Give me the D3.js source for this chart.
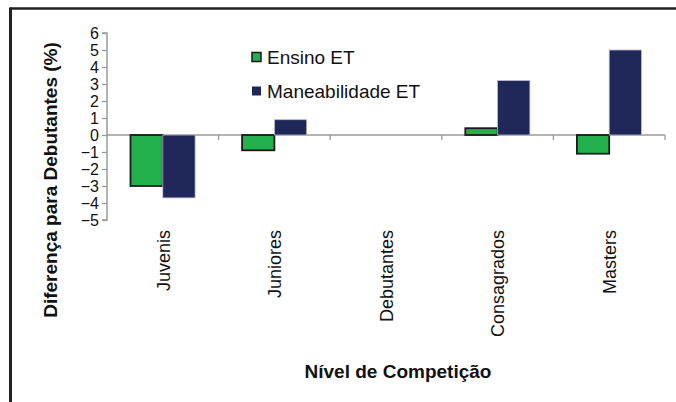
<!DOCTYPE html>
<html>
<head>
<meta charset="utf-8">
<script src="https://cdn.jsdelivr.net/npm/d3@7"></script>
<style>
  html, body { margin: 0; padding: 0; background: #fff; }
  svg { display: block; font-family: "Liberation Sans", Arial, sans-serif; }
</style>
</head>
<body>
<svg id="chart" width="676" height="402"></svg>
<script>
const categories = ["Juvenis", "Juniores", "Debutantes", "Consagrados", "Masters"];
const seriesNames = ["Ensino ET", "Maneabilidade ET"];
const ensino = [-3.0, -0.9, 0, 0.4, -1.1];
const maneabilidade = [-3.7, 0.9, 0, 3.2, 5.0];
const yTicks = [6, 5, 4, 3, 2, 1, 0, -1, -2, -3, -4, -5];
const colors = ["#23b14d", "#1f2859"];
const strokes = ["#1a1a1a", "#b8bccc"];

const svg = d3.select("#chart");
const W = 676, H = 402;

// frame
svg.append("line").attr("x1", 10).attr("x2", W).attr("y1", 8.5).attr("y2", 8.5)
  .attr("stroke", "#222").attr("stroke-width", 2.5);
svg.append("line").attr("x1", 10.5).attr("x2", 10.5).attr("y1", 7.5).attr("y2", H)
  .attr("stroke", "#222").attr("stroke-width", 3);

const x0 = d3.scaleBand().domain(categories).range([107, 665]).padding(0);
const bw = x0.bandwidth();
const x1 = d3.scaleBand().domain(seriesNames).range([bw / 2 - 32.3, bw / 2 + 32.3]).padding(0);
const y = d3.scaleLinear().domain([-5, 6]).range([220, 33]);

const axisColor = "#9a9a9a";

// y axis
const yAxis = svg.append("g").attr("transform", "translate(107,0)")
  .call(d3.axisLeft(y).tickValues(yTicks).tickSize(5).tickPadding(3).tickFormat(d3.format("d")));
yAxis.select(".domain").attr("stroke", axisColor).attr("stroke-width", 1.5).attr("d", `M-5,${y(6)}H0V${y(-5)}H-5`);
yAxis.selectAll(".tick line").attr("stroke", axisColor).attr("stroke-width", 1.3);
yAxis.selectAll(".tick text").attr("font-size", 16).attr("fill", "#111")
  .attr("font-family", "Liberation Sans, Arial, sans-serif");

// x axis at zero
const xg = svg.append("g").attr("transform", `translate(0,${y(0)})`);
xg.append("line").attr("x1", 107).attr("x2", 665).attr("y1", 0).attr("y2", 0)
  .attr("stroke", axisColor).attr("stroke-width", 1.5);
const boundaries = categories.map(c => x0(c) + bw);
xg.selectAll("line.tk").data(boundaries).enter().append("line").attr("class", "tk")
  .attr("x1", d => d).attr("x2", d => d).attr("y1", 0).attr("y2", 5)
  .attr("stroke", axisColor).attr("stroke-width", 1.3);

// bars
const data = categories.map((c, i) => ({ cat: c, vals: [ensino[i], maneabilidade[i]] }));
const groups = svg.append("g").selectAll("g").data(data).enter().append("g")
  .attr("transform", d => `translate(${x0(d.cat)},0)`);
groups.selectAll("rect").data(d => d.vals.map((v, j) => ({ v, j, s: seriesNames[j] })))
  .enter().append("rect")
  .attr("x", d => x1(d.s))
  .attr("width", x1.bandwidth())
  .attr("y", d => Math.min(y(0), y(d.v)))
  .attr("height", d => Math.abs(y(d.v) - y(0)))
  .attr("fill", d => colors[d.j])
  .attr("stroke", d => d.v === 0 ? "none" : strokes[d.j])
  .attr("stroke-width", d => d.j === 0 ? 1.8 : 0.8);

// x tick labels
svg.append("g").selectAll("text").data(categories).enter().append("text")
  .attr("transform", d => `translate(${x0(d) + bw / 2 + 0.5},230) rotate(-90)`)
  .attr("text-anchor", "end").attr("dy", "0.35em")
  .attr("font-size", 18).attr("fill", "#111").text(d => d);

// axis titles
svg.append("text").attr("x", 398).attr("y", 378).attr("text-anchor", "middle")
  .attr("font-size", 19).attr("font-weight", "bold").attr("fill", "#111")
  .text("Nível de Competição");
svg.append("text").attr("transform", "translate(57,180) rotate(-90)").attr("text-anchor", "middle")
  .attr("font-size", 19).attr("font-weight", "bold").attr("fill", "#111")
  .text("Diferença para Debutantes (%)");

// legend
const leg = svg.append("g");
const legY = [57, 91];
seriesNames.forEach((s, i) => {
  leg.append("rect").attr("x", 252).attr("y", legY[i] - 4.5).attr("width", 9).attr("height", 9)
    .attr("fill", colors[i]).attr("stroke", i === 0 ? "#1a1a1a" : "none").attr("stroke-width", 1.5);
  leg.append("text").attr("x", 267).attr("y", legY[i] + 7).attr("font-size", 19)
    .attr("fill", "#111").text(s);
});
</script>
</body>
</html>
